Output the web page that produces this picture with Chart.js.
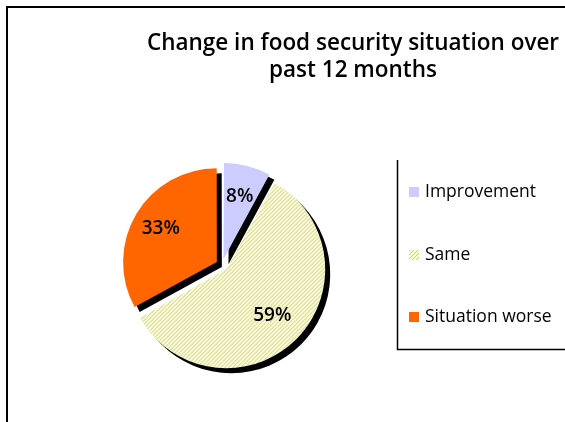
<!DOCTYPE html>
<html>
<head>
<meta charset="utf-8">
<style>
  html, body { margin: 0; padding: 0; background: #ffffff; }
  #wrap { width: 565px; height: 422px; position: relative; }
</style>
<script src="https://cdn.jsdelivr.net/npm/chart.js@4/dist/chart.umd.min.js"></script>
</head>
<body>
<div id="wrap"><canvas id="chart" width="565" height="422"></canvas></div>
<script>
// Survey result: change in household food security over the past year
const titleLines = ['Change in food security situation over', 'past 12 months'];
const categories = ['Improvement', 'Same', 'Situation worse'];
const shares = [8, 59, 33];
const labelTexts = ['8%', '59%', '33%'];

// Diagonal hatch used for the "Same" slice and its legend key
function makeHatch() {
  const c = document.createElement('canvas');
  c.width = 4; c.height = 4;
  const g = c.getContext('2d');
  g.fillStyle = '#ffffcc';
  g.fillRect(0, 0, 4, 4);
  g.fillStyle = '#c2c2ae';
  for (let i = 0; i < 4; i++) g.fillRect(i, 3 - i, 1, 1);
  return g.createPattern(c, 'repeat');
}
const hatch = makeHatch();
const sliceColors = ['#ccccff', hatch, '#ff6600'];

const FONT = '"Open Sans", "Liberation Sans", sans-serif';
const SLICE_OFFSET = 24; // Chart.js shifts an arc by a quarter of this

// Drop shadow behind each slice, then the percentage labels
const sliceDecor = {
  id: 'sliceDecor',
  beforeDatasetsDraw(chart) {
    const ctx = chart.ctx;
    ctx.save();
    ctx.shadowColor = '#000000';
    ctx.shadowOffsetX = 5;
    ctx.shadowOffsetY = 5;
    ctx.shadowBlur = 0;
  },
  afterDatasetsDraw(chart) {
    const ctx = chart.ctx;
    ctx.restore();
    const meta = chart.getDatasetMeta(0);
    ctx.save();
    ctx.fillStyle = '#000000';
    ctx.font = '600 19px ' + FONT;
    ctx.textAlign = 'center';
    ctx.textBaseline = 'middle';
    meta.data.forEach((arc, i) => {
      const p = arc.getProps(['x', 'y', 'startAngle', 'endAngle', 'outerRadius'], true);
      const mid = (p.startAngle + p.endAngle) / 2;
      const d = SLICE_OFFSET / 4 + p.outerRadius * 0.7;
      ctx.fillText(labelTexts[i], p.x + Math.cos(mid) * d, p.y + Math.sin(mid) * d);
    });
    ctx.restore();
  }
};

// Title, legend panel and the outer frame
const frameAndLegend = {
  id: 'frameAndLegend',
  afterDraw(chart) {
    const ctx = chart.ctx;
    ctx.save();
    // frame
    ctx.strokeStyle = '#000000';
    ctx.lineWidth = 2;
    ctx.beginPath();
    ctx.moveTo(7, 422);
    ctx.lineTo(7, 7);
    ctx.lineTo(565, 7);
    ctx.stroke();

    // title
    ctx.fillStyle = '#000000';
    ctx.font = '600 22.5px ' + FONT;
    ctx.textAlign = 'center';
    ctx.textBaseline = 'middle';
    ctx.fillText(titleLines[0], 353, 44);
    ctx.fillText(titleLines[1], 353, 71);

    // legend panel edges
    ctx.lineWidth = 1.5;
    ctx.beginPath();
    ctx.moveTo(397.5, 160);
    ctx.lineTo(397.5, 349.5);
    ctx.lineTo(565, 349.5);
    ctx.stroke();

    // legend entries
    const rows = [192, 255, 317];
    ctx.font = '17.5px ' + FONT;
    ctx.textAlign = 'left';
    categories.forEach((name, i) => {
      ctx.fillStyle = sliceColors[i];
      ctx.fillRect(409, rows[i] - 5, 10, 10);
      ctx.fillStyle = '#000000';
      ctx.fillText(name, 425, rows[i]);
    });
    ctx.restore();
  }
};

new Chart(document.getElementById('chart'), {
  type: 'pie',
  data: {
    labels: categories,
    datasets: [{
      data: shares,
      backgroundColor: sliceColors,
      borderWidth: 0,
      offset: SLICE_OFFSET
    }]
  },
  options: {
    responsive: false,
    animation: false,
    radius: 93,
    layout: { padding: { left: 20, right: 141, top: 142, bottom: 34 } },
    plugins: {
      legend: { display: false },
      title: { display: false },
      tooltip: { enabled: false }
    }
  },
  plugins: [sliceDecor, frameAndLegend]
});
</script>
</body>
</html>
